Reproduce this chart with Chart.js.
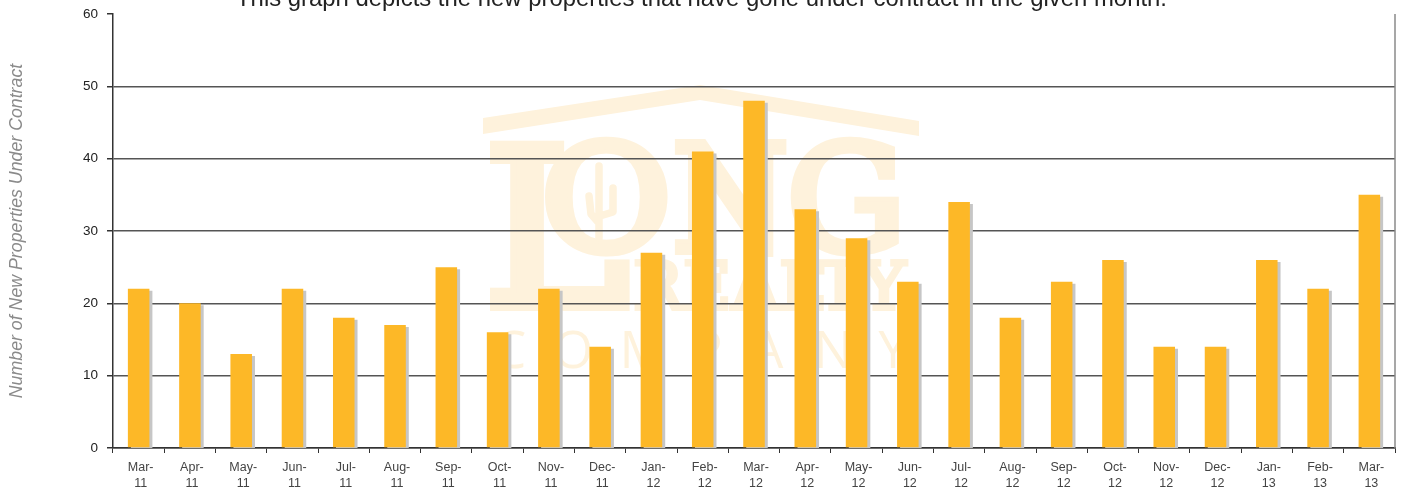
<!DOCTYPE html>
<html>
<head>
<meta charset="utf-8">
<title>New Properties Under Contract</title>
<script src="https://cdn.jsdelivr.net/npm/chart.js@4"></script>
<style>
    html, body { margin: 0; padding: 0; background: #fff; overflow: hidden; }
    #wrap { position: relative; width: 1403px; height: 493px; }
</style>
</head>
<body>
<div id="wrap"><canvas id="contractChart"></canvas></div>
<script>
// ─── DATA ─────────────────────────────────────────────────────────────────────
const months = ['Mar-', 'Apr-', 'May-', 'Jun-', 'Jul-', 'Aug-', 'Sep-', 'Oct-', 'Nov-', 'Dec-', 'Jan-', 'Feb-',
                'Mar-', 'Apr-', 'May-', 'Jun-', 'Jul-', 'Aug-', 'Sep-', 'Oct-', 'Nov-', 'Dec-', 'Jan-', 'Feb-', 'Mar-'];
const years  = ['11', '11', '11', '11', '11', '11', '11', '11', '11', '11', '12', '12',
                '12', '12', '12', '12', '12', '12', '12', '12', '12', '12', '13', '13', '13'];
const underContract = [22, 20, 13, 22, 18, 17, 25, 16, 22, 14, 27, 41, 48, 33, 29, 23, 34, 18, 23, 26, 14, 14, 26, 22, 35];

const TITLE_TEXT = 'This graph depicts the new properties that have gone under contract in the given month.';
const Y_TITLE    = 'Number of New Properties Under Contract';

const BAR_COLOR    = '#fdb827';
const SHADOW_COLOR = '#c6c6c6';
const MARK_COLOR   = '#fef2dc';
const FONT         = '"Liberation Sans", Arial, sans-serif';

// ─── WATERMARK (logo behind the grid) ─────────────────────────────────────────
function drawLetter(ctx, ch, x, y, size, stretch, weight) {
    ctx.save();
    ctx.translate(x, y);
    ctx.scale(stretch, 1);
    ctx.font = `${size}px "DejaVu Serif", serif`;
    ctx.lineWidth = weight;
    ctx.lineJoin = 'miter';
    ctx.strokeText(ch, 0, 0);
    ctx.fillText(ch, 0, 0);
    ctx.restore();
}

const watermark = {
    id: 'watermark',
    beforeDraw(chart) {
        const ctx = chart.ctx;
        ctx.save();
        ctx.fillStyle = MARK_COLOR;
        ctx.strokeStyle = MARK_COLOR;

        // roof
        ctx.beginPath();
        ctx.moveTo(483, 118);
        ctx.lineTo(700, 85);
        ctx.lineTo(919, 121);
        ctx.lineTo(919, 136);
        ctx.lineTo(700, 100);
        ctx.lineTo(483, 134);
        ctx.closePath();
        ctx.fill();

        // LONG
        ctx.textAlign = 'left';
        ctx.textBaseline = 'alphabetic';
        drawLetter(ctx, 'L', 484, 305, 218, 1.0, 12);
        drawLetter(ctx, 'O', 541, 250, 146, 1.09, 9);
        drawLetter(ctx, 'N', 672, 251, 148, 0.9, 8);
        drawLetter(ctx, 'G', 787, 250, 146, 1.02, 9);

        // cactus, sits inside the O
        ctx.strokeStyle = MARK_COLOR;
        ctx.lineCap = 'round';
        ctx.lineJoin = 'round';
        ctx.lineWidth = 7.5;
        ctx.beginPath();
        ctx.moveTo(599, 166);
        ctx.lineTo(599, 238);
        ctx.moveTo(589, 196);
        ctx.lineTo(591, 214);
        ctx.lineTo(598, 222);
        ctx.moveTo(613, 188);
        ctx.lineTo(613, 212);
        ctx.lineTo(600, 216);
        ctx.stroke();

        // REALTY
        drawLetter(ctx, 'REALTY', 633, 309, 65, 1.02, 4);

        // COMPANY
        ctx.font = '52px "Open Sans", sans-serif';
        ctx.textAlign = 'center';
        ['C', 'O', 'M', 'P', 'A', 'N', 'Y'].forEach((ch, i) => {
            ctx.fillText(ch, [510, 573, 643, 707, 767, 833, 893][i], 368);
        });
        ctx.restore();
    },
    afterDraw(chart) {
        const ctx = chart.ctx;
        const { top, bottom, right } = chart.chartArea;
        ctx.save();
        // right edge of the plot
        ctx.strokeStyle = '#8a8a8a';
        ctx.lineWidth = 1.5;
        ctx.beginPath();
        ctx.moveTo(right, top);
        ctx.lineTo(right, bottom);
        ctx.stroke();
        // headline, runs off the top of the image
        ctx.fillStyle = '#222';
        ctx.font = `23.9px ${FONT}`;
        ctx.textAlign = 'left';
        ctx.textBaseline = 'alphabetic';
        ctx.fillText(TITLE_TEXT, 236, 6);
        ctx.restore();
    },
};

// ─── BAR SHADOW ───────────────────────────────────────────────────────────────
const barShadow = {
    id: 'barShadow',
    beforeDatasetDraw(chart) {
        const ctx = chart.ctx;
        ctx.save();
        ctx.shadowColor = SHADOW_COLOR;
        ctx.shadowBlur = 0;
        ctx.shadowOffsetX = 3;
        ctx.shadowOffsetY = 2;
    },
    afterDatasetDraw(chart) {
        chart.ctx.restore();
    },
};

// ─── CHART ────────────────────────────────────────────────────────────────────
new Chart(document.getElementById('contractChart').getContext('2d'), {
    type: 'bar',
    data: {
        labels: months.map((m, i) => [m, years[i]]),
        datasets: [{
            label: 'New Properties Under Contract',
            data: underContract,
            backgroundColor: BAR_COLOR,
            borderWidth: 0,
            barPercentage: 0.42,
            categoryPercentage: 1,
        }],
    },
    options: {
        responsive: true,
        maintainAspectRatio: false,
        animation: false,
        layout: { padding: { top: 14, right: 8, bottom: 0, left: 0 } },
        plugins: {
            legend: { display: false },
            tooltip: { enabled: false },
        },
        scales: {
            x: {
                afterFit: (axis) => { axis.height = 45; },
                border: { color: '#333', width: 1.5 },
                grid: { drawOnChartArea: false, tickLength: 5, tickColor: '#333', offset: true },
                ticks: {
                    color: '#444',
                    padding: 7,
                    labelOffset: 2,
                    maxRotation: 0,
                    autoSkip: false,
                    font: { family: FONT, size: 12.5, lineHeight: 1.25 },
                },
            },
            y: {
                min: 0,
                max: 60,
                afterFit: (axis) => {
                    axis.width = 113;
                    axis.paddingTop = 0;
                    axis.paddingBottom = 0;
                },
                border: { color: '#333', width: 1.5 },
                grid: {
                    color: (c) => (c.tick.value === 60 ? 'rgba(0,0,0,0)' : '#555'),
                    tickColor: '#333',
                    tickLength: 6,
                    lineWidth: 1.5,
                },
                ticks: {
                    stepSize: 10,
                    color: '#222',
                    padding: 9,
                    font: { family: FONT, size: 13.5 },
                },
                title: {
                    display: true,
                    text: Y_TITLE,
                    color: '#8a8a8a',
                    padding: { top: 6, bottom: 0 },
                    font: { family: FONT, size: 17.75, style: 'italic' },
                },
            },
        },
    },
    plugins: [watermark, barShadow],
});
</script>
</body>
</html>
